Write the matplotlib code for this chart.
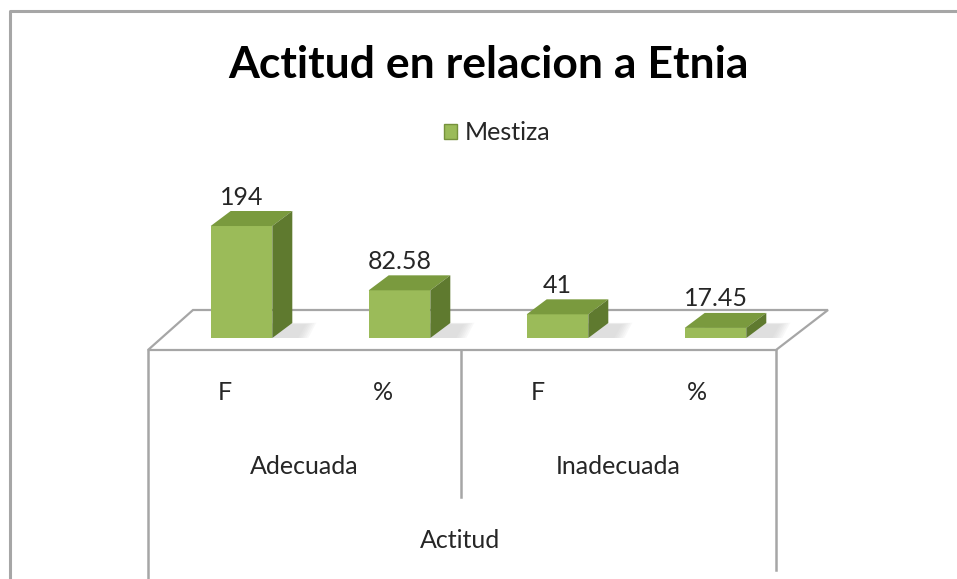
import matplotlib
matplotlib.use("Agg")
from matplotlib import pyplot as plt
from matplotlib.patches import Polygon, Patch

plt.rcParams['font.family'] = ['Lato', 'DejaVu Sans']

# datos
grupos = ['Adecuada', 'Inadecuada']
sub_etiquetas = ['F', '%', 'F', '%']
valores = [194, 82.58, 41, 17.45]
etiquetas_valor = ['194', '82.58', '41', '17.45']
serie = 'Mestiza'
titulo = 'Actitud en relacion a Etnia'
eje_titulo = 'Actitud'

W, H = 957, 579
fig = plt.figure(figsize=(W / 100, H / 100), dpi=100)

# fondo en pixeles: marco, piso y tabla de categorias
bg = fig.add_axes([0, 0, 1, 1])
bg.set_xlim(0, W)
bg.set_ylim(H, 0)
bg.axis('off')
gris = '#a6a6a6'
bg.plot([10, 10, W + 5], [H + 5, 11, 11], color=gris, lw=2.2)
piso = [(148, 350), (776, 350), (828, 310), (193, 310)]
bg.add_patch(Polygon(piso, closed=True, fc='white', ec=gris, lw=1.6))
bg.plot([148, 148], [350, H + 5], color=gris, lw=1.8)
bg.plot([776, 776], [350, 570], color=gris, lw=1.8)
bg.plot([461, 461], [350, 497], color=gris, lw=1.8)

# ejes de las barras
ax = fig.add_axes([162.5 / W, (H - 338) / H, 632 / W, 250 * 0.5773 / H])
ax.set_xlim(-0.5, 3.5)
ax.set_ylim(0, 250)
ax.axis('off')
ax.patch.set_alpha(0)

ancho = 0.39
dx = 20 * 4 / 632
dy = 15 * 250 / (250 * 0.5773)
frente = '#9bbb59'
arriba = '#7a9a3e'
lado = '#5f7a2f'

x = list(range(len(valores)))
ax.bar(x, valores, width=ancho, color=frente, zorder=3)
for i, v in zip(x, valores):
    x0, x1 = i - ancho / 2, i + ancho / 2
    # sombra difusa
    for k in range(6):
        e = 0.6 - k * 0.1
        ax.add_patch(Polygon([(x0 + dx * 0.5, 0), (x1 + dx * (1.2 + e), 0),
                              (x1 + dx * (1.6 + e), dy * (0.9 + e * 0.2)), (x0 + dx * 1.2, dy * (0.9 + e * 0.2))],
                             closed=True, fc='#c8c8c8', ec='none', alpha=0.12, zorder=1))
    ax.add_patch(Polygon([(x0, v), (x1, v), (x1 + dx, v + dy), (x0 + dx, v + dy)],
                         closed=True, fc=arriba, ec='none', zorder=3))
    ax.add_patch(Polygon([(x1, 0), (x1, v), (x1 + dx, v + dy), (x1 + dx, dy)],
                         closed=True, fc=lado, ec='none', zorder=3))

for i, v, t in zip(x, valores, etiquetas_valor):
    ax.annotate(t, (i, v + dy), xytext=(0, 14), textcoords='offset pixels',
                ha='center', va='center', fontsize=18, color='#262626', zorder=5)

# etiquetas de categorias
sub_x = [225, 383, 538, 697]
for sx, s in zip(sub_x, sub_etiquetas):
    bg.text(sx, 393, s, ha='center', va='center', fontsize=18, color='#262626')
for gx, g in zip([304, 618], grupos):
    bg.text(gx, 466, g, ha='center', va='center', fontsize=18, color='#262626')
bg.text(460, 540, eje_titulo, ha='center', va='center', fontsize=18, color='#262626')

bg.text(489, 65, titulo, ha='center', va='center', fontsize=32, fontweight='bold', color='black')

fig.legend(handles=[Patch(fc=frente, ec='#76923c', label=serie)], loc='center',
           bbox_to_anchor=(497 / W, 1 - 133 / H), frameon=False, fontsize=18,
           handlelength=0.55, handleheight=0.55, handletextpad=0.3, labelcolor='#262626')

fig.savefig('out.png', dpi=100)
